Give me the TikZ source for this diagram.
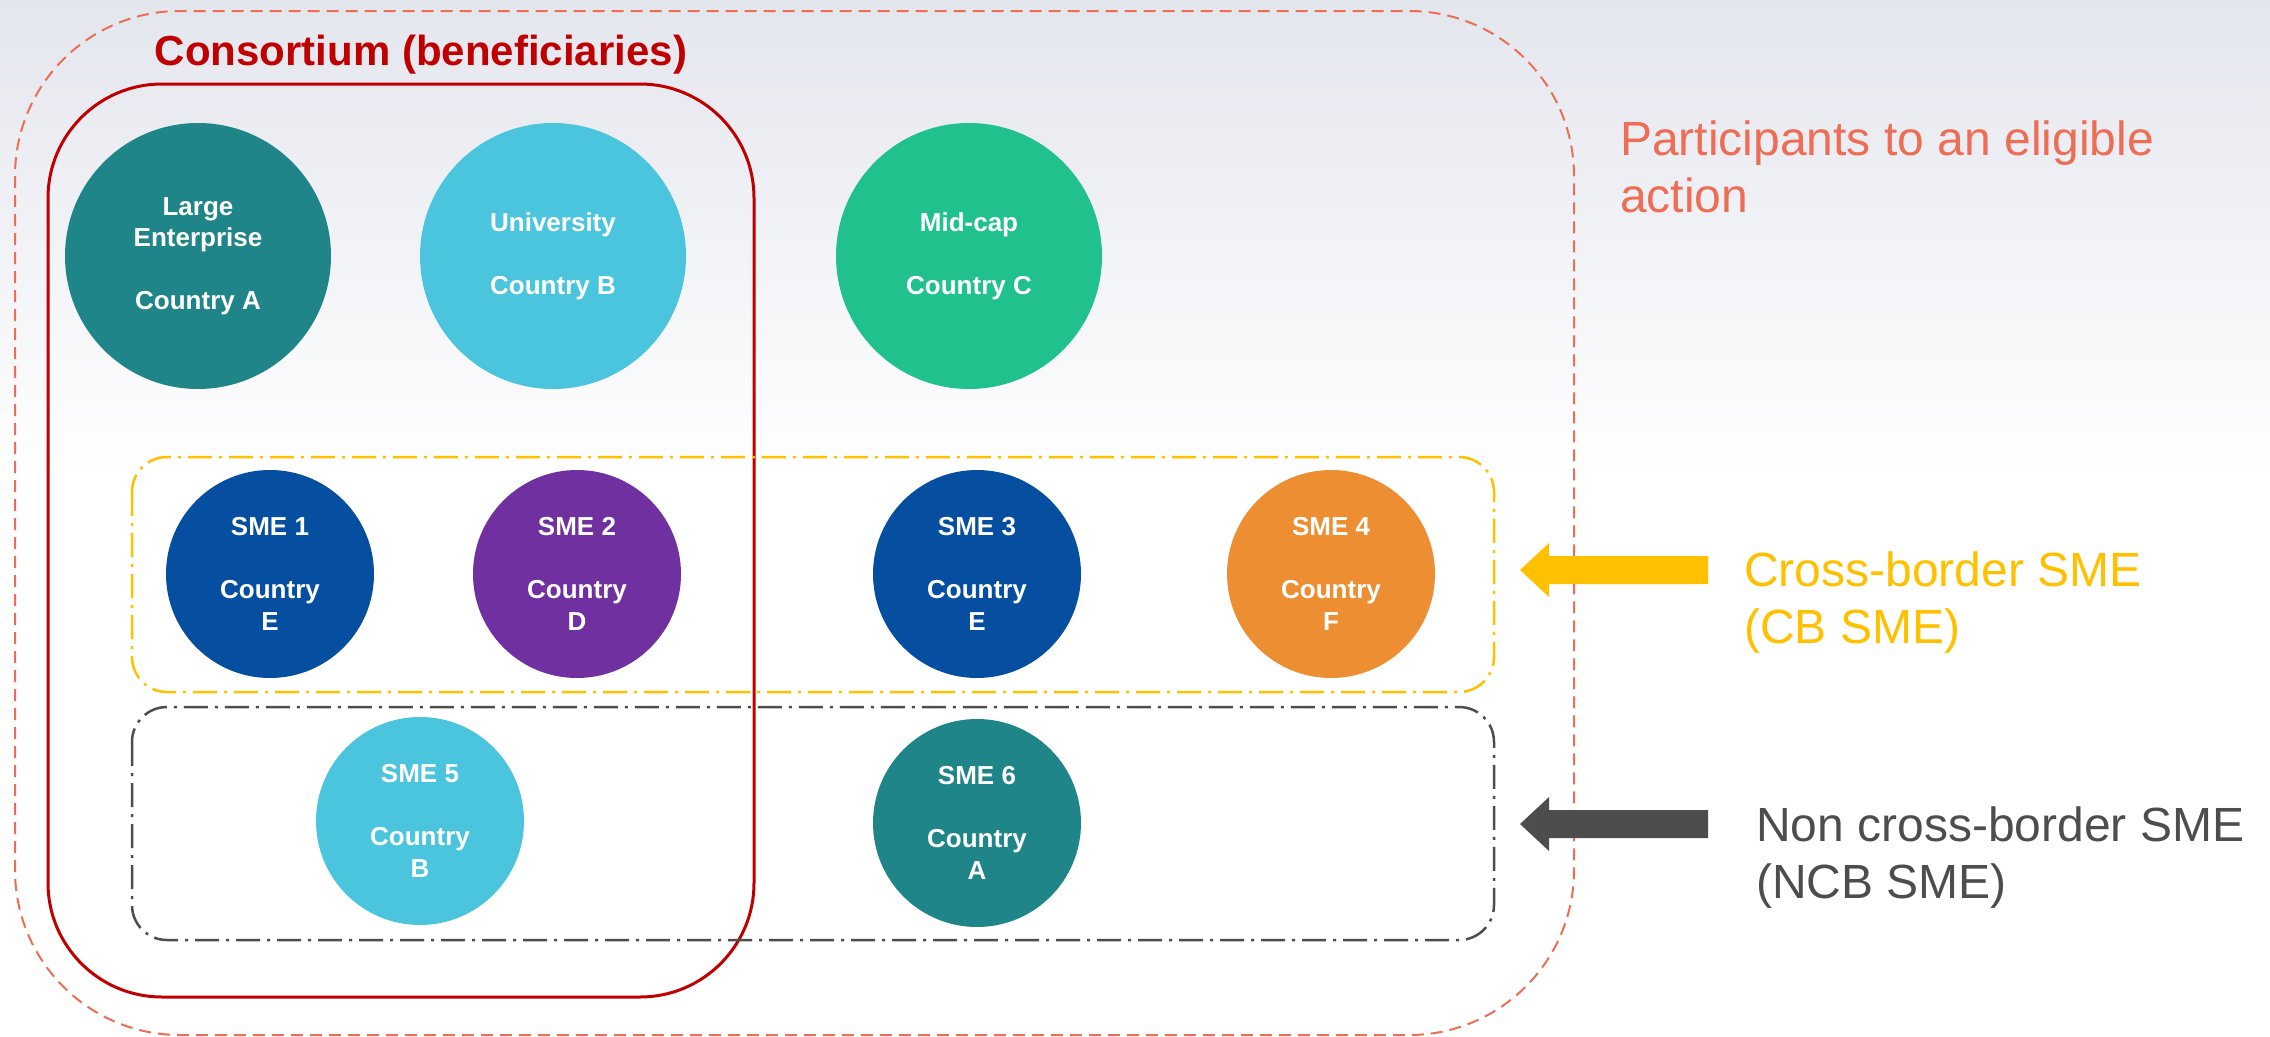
\documentclass[tikz,border=0pt]{standalone}
\usepackage{fontspec}
\setmainfont{Liberation Sans}

\definecolor{bgtop}{RGB}{228,230,238}
\definecolor{salmon}{RGB}{237,110,85}
\definecolor{consred}{RGB}{192,0,0}
\definecolor{cbgold}{RGB}{255,192,0}
\definecolor{ncbgray}{RGB}{77,77,77}
\definecolor{teal1}{RGB}{31,133,137}
\definecolor{sky1}{RGB}{75,197,221}
\definecolor{green1}{RGB}{32,193,140}
\definecolor{blue1}{RGB}{5,78,160}
\definecolor{purple1}{RGB}{112,48,160}
\definecolor{orange1}{RGB}{238,142,51}

\tikzset{
	firm/.style={circle, draw=none, inner sep=0pt, text=white, align=center,
		font=\bfseries\fontsize{26}{31.5}\selectfont},
	bigfirm/.style={firm, minimum size=266pt},
	smefirm/.style={firm, minimum size=208pt},
	smegroup/.style={line width=2.5pt, rounded corners=35pt,
		dash pattern=on 24pt off 7pt on 3pt off 7pt},
	sidelabel/.style={anchor=base west, align=left, inner sep=0pt,
		font=\fontsize{48}{57}\selectfont},
}

\begin{document}
\begin{tikzpicture}[x=1pt,y=-1pt]
		\useasboundingbox (0,0) rectangle (2270,1036);
		\shade[top color=bgtop, bottom color=white] (0,0) rectangle (2270,480);
		
		% eligible action
		\draw[salmon, line width=2pt, dash pattern=on 12pt off 7pt, rounded corners=165pt]
			(15,11) rectangle (1574,1035);
		
		% consortium
		\draw[consred, line width=3pt, rounded corners=114pt] (48,84) rectangle (754,997);
		\node[anchor=base, inner sep=0pt, text=consred, font=\bfseries\fontsize{42}{50}\selectfont]
			(consortium) at (421,65) {Consortium (beneficiaries)};
		
		% SME groups
		\draw[smegroup, cbgold] (132,457) rectangle (1494,692);
		\draw[smegroup, ncbgray] (132,707) rectangle (1494,940);
		
		\node[bigfirm, fill=teal1] (large) at (198,256) {Large\\Enterprise\\[31.5pt]Country A};
		\node[bigfirm, fill=sky1] (univ) at (553,256) {University\\[31.5pt]Country B};
		\node[bigfirm, fill=green1] (midcap) at (969,256) {Mid-cap\\[31.5pt]Country C};
		
		\node[smefirm, fill=blue1] (sme1) at (270,574) {SME 1\\[31.5pt]Country\\E};
		\node[smefirm, fill=purple1] (sme2) at (577,574) {SME 2\\[31.5pt]Country\\D};
		\node[smefirm, fill=blue1] (sme3) at (977,574) {SME 3\\[31.5pt]Country\\E};
		\node[smefirm, fill=orange1] (sme4) at (1331,574) {SME 4\\[31.5pt]Country\\F};
		\node[smefirm, fill=sky1] (sme5) at (420,821) {SME 5\\[31.5pt]Country\\B};
		\node[smefirm, fill=teal1] (sme6) at (977,823) {SME 6\\[31.5pt]Country\\A};
		
		% labels (base = last line)
		\node[sidelabel, text=salmon] (action) at (1620,212) {Participants to an eligible\\action};
		\node[sidelabel, text=cbgold] (cblabel) at (1744,643) {Cross-border SME\\(CB SME)};
		\node[sidelabel, text=ncbgray] (ncblabel) at (1756,898) {Non cross-border SME\\(NCB SME)};
		
		% arrows
		\coordinate (cbtip) at (1520,570);
		\coordinate (ncbtip) at (1520,824);
		\fill[cbgold] (1708,556) -- (1549,556) -- (1549,543) -- (cbtip) -- (1549,597) -- (1549,584) -- (1708,584) -- cycle;
		\fill[ncbgray] (1708,810) -- (1549,810) -- (1549,797) -- (ncbtip) -- (1549,851) -- (1549,838) -- (1708,838) -- cycle;
\end{tikzpicture}
\end{document}
